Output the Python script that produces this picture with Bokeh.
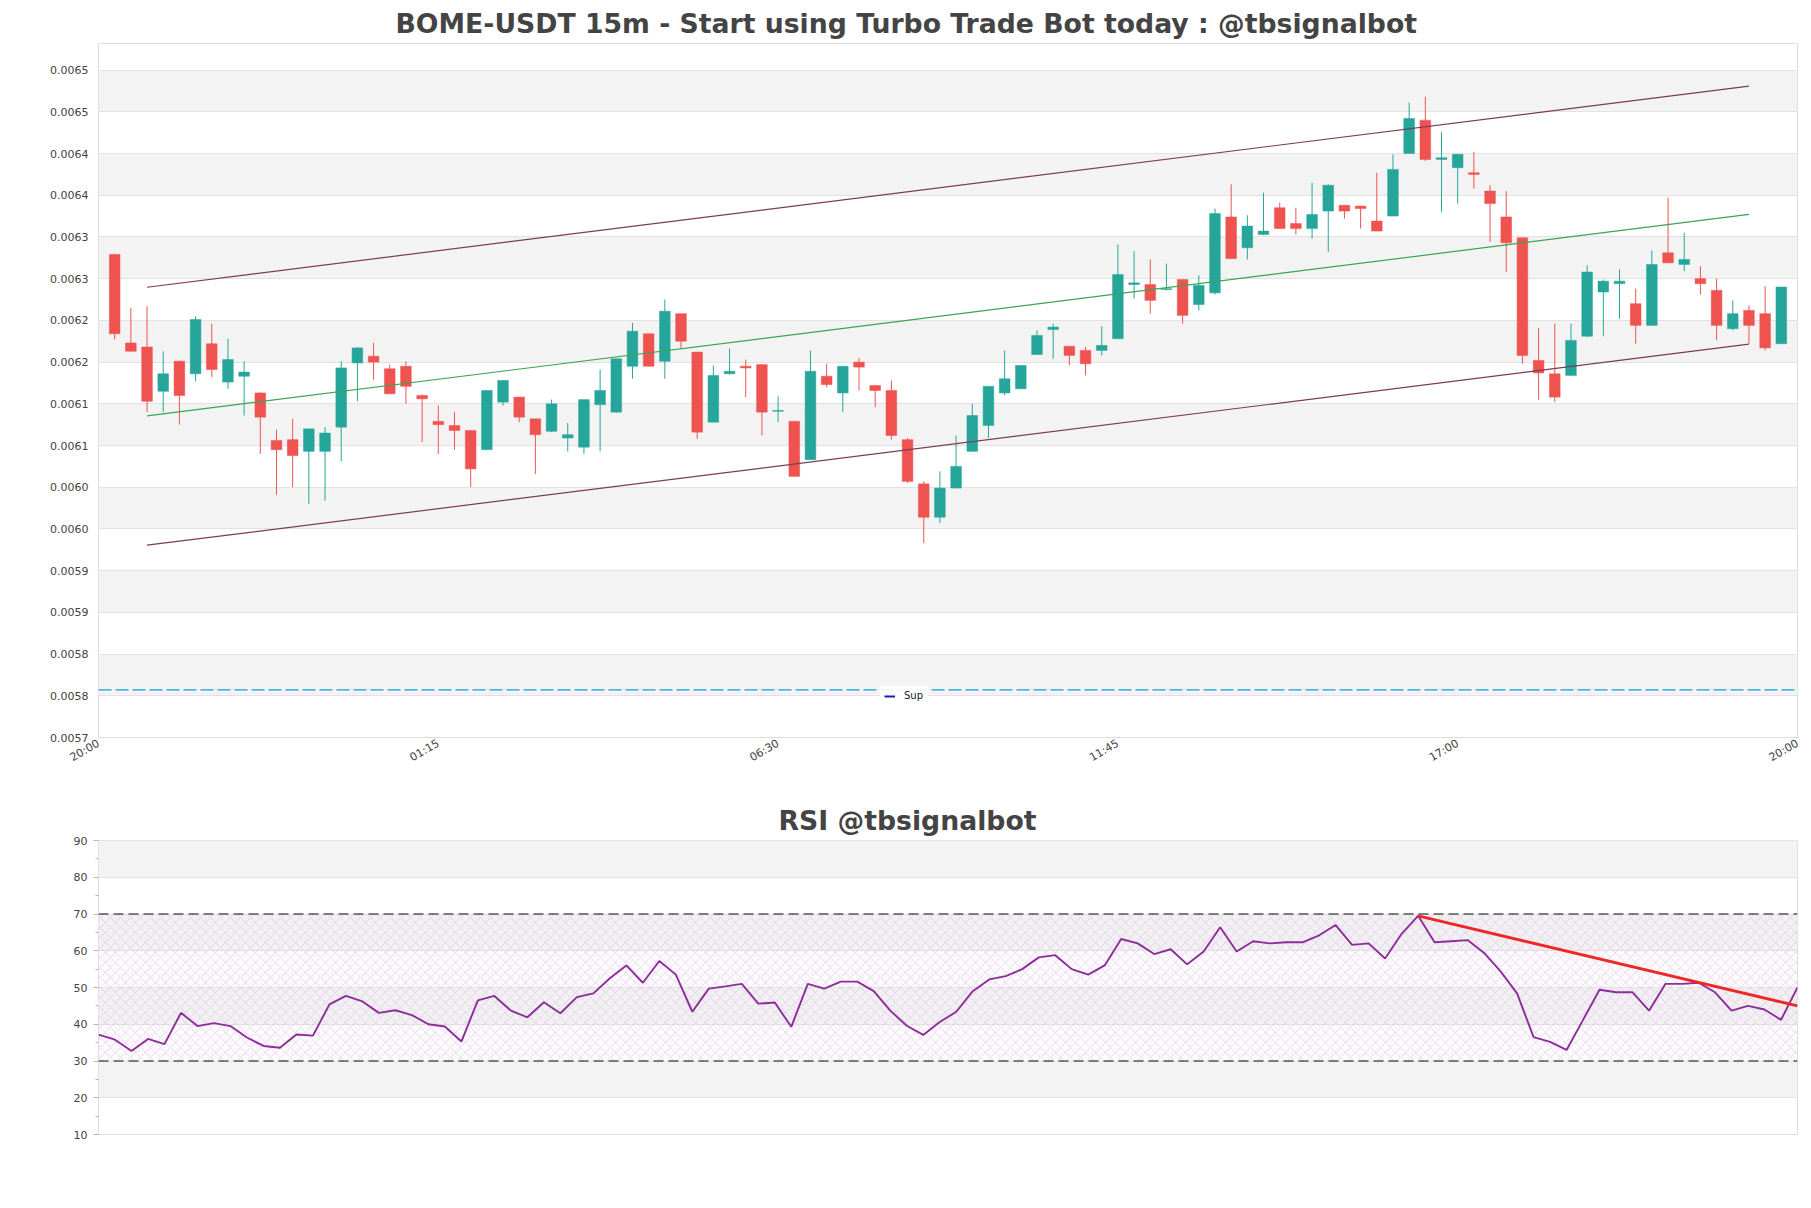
import math
from bokeh.plotting import figure
from bokeh.layouts import column
from bokeh.models import (FixedTicker, Span, BoxAnnotation, Legend, LegendItem,
                          ColumnDataSource, Range1d)
from bokeh.embed import file_html
from bokeh.resources import INLINE

# ---------------- data ----------------
title_main = "BOME-USDT 15m - Start using Turbo Trade Bot today : @tbsignalbot"
title_rsi = "RSI @tbsignalbot"

open_ = [0.006279, 0.006173, 0.006168, 0.006115, 0.006151, 0.006136, 0.006172, 0.006126, 0.006133, 0.006113,
         0.006056, 0.006057, 0.006043, 0.006043, 0.006072, 0.006149, 0.006157, 0.006142, 0.006145, 0.006110,
         0.006079, 0.006074, 0.006068, 0.006045, 0.006102, 0.006108, 0.006082, 0.006067, 0.006059, 0.006048,
         0.006099, 0.006090, 0.006145, 0.006184, 0.006151, 0.006208, 0.006162, 0.006078, 0.006136, 0.006145,
         0.006147, 0.006091, 0.006079, 0.006033, 0.006133, 0.006113, 0.006150, 0.006122, 0.006116, 0.006057,
         0.006004, 0.005964, 0.005999, 0.006043, 0.006074, 0.006113, 0.006118, 0.006159, 0.006189, 0.006169,
         0.006164, 0.006164, 0.006178, 0.006243, 0.006243, 0.006237, 0.006249, 0.006219, 0.006233, 0.006324,
         0.006287, 0.006303, 0.006335, 0.006316, 0.006310, 0.006331, 0.006338, 0.006337, 0.006319, 0.006325,
         0.006400, 0.006440, 0.006393, 0.006383, 0.006377, 0.006355, 0.006324, 0.006299, 0.006152, 0.006136,
         0.006134, 0.006181, 0.006234, 0.006244, 0.006220, 0.006194, 0.006281, 0.006267, 0.006250, 0.006236,
         0.006190, 0.006212, 0.006208, 0.006172]
high = [0.006280, 0.006215, 0.006217, 0.006163, 0.006152, 0.006205, 0.006196, 0.006178, 0.006151, 0.006114,
        0.006069, 0.006082, 0.006070, 0.006072, 0.006151, 0.006168, 0.006173, 0.006147, 0.006151, 0.006111,
        0.006098, 0.006090, 0.006068, 0.006116, 0.006128, 0.006108, 0.006082, 0.006105, 0.006077, 0.006105,
        0.006141, 0.006154, 0.006197, 0.006184, 0.006225, 0.006208, 0.006162, 0.006146, 0.006166, 0.006153,
        0.006147, 0.006109, 0.006079, 0.006164, 0.006148, 0.006145, 0.006155, 0.006122, 0.006128, 0.006059,
        0.006007, 0.006019, 0.006062, 0.006100, 0.006121, 0.006164, 0.006146, 0.006188, 0.006196, 0.006169,
        0.006168, 0.006193, 0.006291, 0.006283, 0.006273, 0.006268, 0.006249, 0.006254, 0.006334, 0.006363,
        0.006326, 0.006353, 0.006341, 0.006335, 0.006365, 0.006363, 0.006338, 0.006337, 0.006377, 0.006399,
        0.006461, 0.006468, 0.006426, 0.006399, 0.006402, 0.006362, 0.006355, 0.006299, 0.006191, 0.006196,
        0.006196, 0.006266, 0.006249, 0.006261, 0.006238, 0.006284, 0.006347, 0.006305, 0.006265, 0.006250,
        0.006224, 0.006218, 0.006241, 0.006240]
low = [0.006177, 0.006162, 0.006090, 0.006090, 0.006075, 0.006127, 0.006132, 0.006118, 0.006086, 0.006040,
       0.005991, 0.006000, 0.005980, 0.005984, 0.006031, 0.006103, 0.006129, 0.006112, 0.006100, 0.006054,
       0.006040, 0.006045, 0.006000, 0.006045, 0.006098, 0.006078, 0.006016, 0.006066, 0.006043, 0.006040,
       0.006043, 0.006089, 0.006130, 0.006145, 0.006130, 0.006166, 0.006058, 0.006078, 0.006135, 0.006108,
       0.006062, 0.006078, 0.006013, 0.006033, 0.006120, 0.006090, 0.006116, 0.006096, 0.006057, 0.006005,
       0.005933, 0.005957, 0.005999, 0.006043, 0.006059, 0.006110, 0.006118, 0.006159, 0.006154, 0.006146,
       0.006134, 0.006158, 0.006178, 0.006226, 0.006208, 0.006236, 0.006196, 0.006212, 0.006231, 0.006274,
       0.006273, 0.006302, 0.006310, 0.006303, 0.006298, 0.006282, 0.006322, 0.006310, 0.006307, 0.006325,
       0.006400, 0.006391, 0.006330, 0.006340, 0.006358, 0.006294, 0.006258, 0.006148, 0.006105, 0.006102,
       0.006134, 0.006180, 0.006181, 0.006202, 0.006172, 0.006194, 0.006269, 0.006259, 0.006231, 0.006176,
       0.006188, 0.006172, 0.006164, 0.006172]
close = [0.006184, 0.006163, 0.006103, 0.006136, 0.006110, 0.006201, 0.006141, 0.006153, 0.006138, 0.006084,
         0.006045, 0.006038, 0.006070, 0.006065, 0.006143, 0.006167, 0.006150, 0.006112, 0.006121, 0.006106,
         0.006075, 0.006068, 0.006022, 0.006116, 0.006128, 0.006084, 0.006063, 0.006100, 0.006063, 0.006105,
         0.006116, 0.006154, 0.006187, 0.006145, 0.006211, 0.006175, 0.006066, 0.006134, 0.006139, 0.006143,
         0.006090, 0.006092, 0.006013, 0.006139, 0.006123, 0.006145, 0.006144, 0.006116, 0.006062, 0.006007,
         0.005964, 0.005999, 0.006025, 0.006086, 0.006121, 0.006130, 0.006146, 0.006182, 0.006192, 0.006158,
         0.006148, 0.006170, 0.006255, 0.006245, 0.006224, 0.006238, 0.006206, 0.006242, 0.006328, 0.006274,
         0.006313, 0.006307, 0.006310, 0.006310, 0.006327, 0.006362, 0.006331, 0.006334, 0.006307, 0.006381,
         0.006442, 0.006393, 0.006395, 0.006399, 0.006375, 0.006340, 0.006293, 0.006158, 0.006137, 0.006108,
         0.006176, 0.006258, 0.006247, 0.006247, 0.006194, 0.006267, 0.006269, 0.006273, 0.006244, 0.006194,
         0.006208, 0.006194, 0.006167, 0.006240]

rsi = [37.2, 35.8, 32.7, 36.0, 34.6, 43.1, 39.5, 40.3, 39.5, 36.4,
       34.1, 33.6, 37.2, 36.9, 45.4, 47.7, 46.2, 43.1, 43.8, 42.5,
       40.0, 39.4, 35.3, 46.5, 47.7, 43.7, 41.9, 46.0, 43.0, 47.4,
       48.4, 52.5, 56.0, 51.3, 57.2, 53.5, 43.4, 49.7, 50.3, 51.0,
       45.6, 45.9, 39.3, 51.0, 49.7, 51.6, 51.6, 49.0, 43.7, 39.6,
       37.1, 40.6, 43.4, 49.0, 52.2, 53.1, 55.0, 58.2, 58.8, 55.0,
       53.5, 56.0, 63.2, 62.0, 59.1, 60.4, 56.3, 59.8, 66.4, 59.8,
       62.6, 62.0, 62.3, 62.3, 64.2, 67.0, 61.6, 62.0, 57.9, 64.6,
       69.5, 62.3, 62.6, 62.9, 59.4, 54.4, 48.4, 36.5, 35.2, 33.0,
       41.2, 49.4, 48.7, 48.7, 43.7, 51.0, 51.0, 51.3, 48.7, 43.7,
       45.0, 44.0, 41.2, 50.0]

# channel (trend) lines: candle index of start / end and price values
chan_x = [2, 101]
chan_upper = [0.0062397, 0.0064808]
chan_mid = [0.0060855, 0.0063270]
chan_lower = [0.0059305, 0.0061715]
support_level = 0.0057572

# RSI trend line
rsi_trend_x = [80, 103]
rsi_trend_y = [69.5, 45.0]
rsi_upper, rsi_lower = 70, 30

# axis ticks & labels
price_ticks = [0.0057, 0.00575, 0.0058, 0.00585, 0.0059, 0.00595, 0.006, 0.00605, 0.0061,
               0.00615, 0.0062, 0.00625, 0.0063, 0.00635, 0.0064, 0.00645, 0.0065]
price_labels = ["0.0057", "0.0058", "0.0058", "0.0059", "0.0059", "0.0060", "0.0060", "0.0061", "0.0061",
                "0.0062", "0.0062", "0.0063", "0.0063", "0.0064", "0.0064", "0.0065", "0.0065"]
time_ticks = [-1, 20, 41, 62, 83, 104]
time_labels = ["20:00", "01:15", "06:30", "11:45", "17:00", "20:00"]
rsi_ticks = [10, 20, 30, 40, 50, 60, 70, 80, 90]
rsi_minor = [15, 25, 35, 45, 55, 65, 75, 85]

# ---------------- styling helpers ----------------
UP, DOWN = "#26a69a", "#ef5350"
FONT = "DejaVu Sans"
TXT = "#444444"

idx = list(range(len(open_)))
colors = [UP if c >= o else DOWN for o, c in zip(open_, close)]
src = ColumnDataSource(dict(
    x=idx, high=high, low=low,
    top=[max(o, c) for o, c in zip(open_, close)],
    bottom=[min(o, c) for o, c in zip(open_, close)],
    color=colors))


def style_common(p):
    p.outline_line_color = "#dddddd"
    p.outline_line_width = 1
    p.xgrid.visible = False
    p.ygrid.grid_line_color = "#e2e2e2"
    p.ygrid.grid_line_width = 1
    p.ygrid.band_fill_color = "#f3f3f3"
    p.ygrid.band_fill_alpha = 1.0
    p.background_fill_color = "white"
    p.border_fill_color = "white"
    for ax in (p.xaxis + p.yaxis):
        ax.axis_line_color = None
        ax.major_label_text_font = FONT
        ax.major_label_text_font_size = "11px"
        ax.major_label_text_color = TXT
    p.title.text_font = FONT
    p.title.text_font_style = "bold"
    p.title.text_font_size = "26.7px"
    p.title.text_color = TXT
    p.title.align = "left"
    p.title.standoff = 10


# ---------------- price panel ----------------
p1 = figure(frame_width=1699, frame_height=694, min_border_left=98, min_border_right=5,
            min_border_top=43, min_border_bottom=60,
            x_range=Range1d(-1, 104), y_range=Range1d(0.0057, 0.0065319),
            title=title_main, output_backend="svg", toolbar_location=None, tools="")
style_common(p1)
p1.title.offset = 297

pt = FixedTicker(ticks=price_ticks, minor_ticks=[])
p1.yaxis.ticker = pt
p1.ygrid.ticker = pt
p1.yaxis.major_label_overrides = dict(zip(price_ticks, price_labels))
p1.yaxis.major_tick_line_color = None
p1.yaxis.minor_tick_line_color = None
p1.yaxis.major_tick_out = 0
p1.yaxis.major_tick_in = 0
p1.yaxis.major_label_standoff = 10

xt = FixedTicker(ticks=time_ticks, minor_ticks=[])
p1.xaxis.ticker = xt
p1.xaxis.major_label_overrides = dict(zip(time_ticks, time_labels))
p1.xaxis.major_label_orientation = math.pi / 6
p1.xaxis.major_tick_line_color = None
p1.xaxis.minor_tick_line_color = None
p1.xaxis.major_tick_out = 0
p1.xaxis.major_tick_in = 0
p1.xaxis.major_label_standoff = 5

p1.segment(x0="x", y0="low", x1="x", y1="high", line_color="color", line_width=1, source=src)
p1.vbar(x="x", width=0.66, top="top", bottom="bottom", fill_color="color",
        line_color="color", line_width=0.5, source=src)

p1.line(chan_x, chan_upper, line_color="#7c3b55", line_width=1.2)
p1.line(chan_x, chan_mid, line_color="#3aa552", line_width=1.2)
p1.line(chan_x, chan_lower, line_color="#7c3b55", line_width=1.2)

p1.add_layout(Span(location=support_level, dimension="width", line_color="#1a9bd8",
                   line_width=1.3, line_dash="13 4"))
# legend key for the support level (single point: draws nothing in the plot itself)
sup_glyph = p1.line(x=[chan_x[0]], y=[support_level], line_color="#1c1ca8", line_width=2)
legend = Legend(items=[LegendItem(label="Sup", renderers=[sup_glyph])],
                location=(782, 32), margin=0, padding=4, spacing=0,
                glyph_width=11, glyph_height=10, label_height=10, label_standoff=9,
                label_text_font=FONT, label_text_font_size="10px", label_text_color="#222222",
                background_fill_color="white", background_fill_alpha=0.9,
                border_line_alpha=0)
p1.add_layout(legend)

# ---------------- RSI panel ----------------
p2 = figure(frame_width=1699, frame_height=294, min_border_left=98, min_border_right=5,
            min_border_top=43, min_border_bottom=30,
            x_range=Range1d(0, 103), y_range=Range1d(10, 90),
            title=title_rsi, output_backend="svg", toolbar_location=None, tools="")
style_common(p2)
p2.title.offset = 680
p2.xaxis.visible = False

rt = FixedTicker(ticks=rsi_ticks, minor_ticks=rsi_minor)
p2.yaxis.ticker = rt
p2.ygrid.ticker = FixedTicker(ticks=rsi_ticks, minor_ticks=[])
p2.yaxis.major_tick_line_color = "#b5b5b5"
p2.yaxis.minor_tick_line_color = "#b5b5b5"
p2.yaxis.major_tick_out = 5
p2.yaxis.major_tick_in = 0
p2.yaxis.minor_tick_out = 3
p2.yaxis.minor_tick_in = 0
p2.yaxis.major_label_standoff = 6

p2.add_layout(BoxAnnotation(bottom=rsi_lower, top=rsi_upper, fill_color="#efe6f3", fill_alpha=0.15,
                            line_color=None, hatch_pattern="x", hatch_color="#c4b0cf",
                            hatch_alpha=0.55, hatch_scale=10, hatch_weight=0.7, level="underlay"))
for lvl in (rsi_upper, rsi_lower):
    p2.add_layout(Span(location=lvl, dimension="width", line_color="#555555",
                       line_width=1.3, line_dash="10 5"))

p2.line(list(range(len(rsi))), rsi, line_color="#8e2c9c", line_width=1.9)
p2.line(rsi_trend_x, rsi_trend_y, line_color="#f02626", line_width=3)

layout = column(p1, p2, spacing=0)
open("out.html", "w").write(file_html(layout, INLINE))
